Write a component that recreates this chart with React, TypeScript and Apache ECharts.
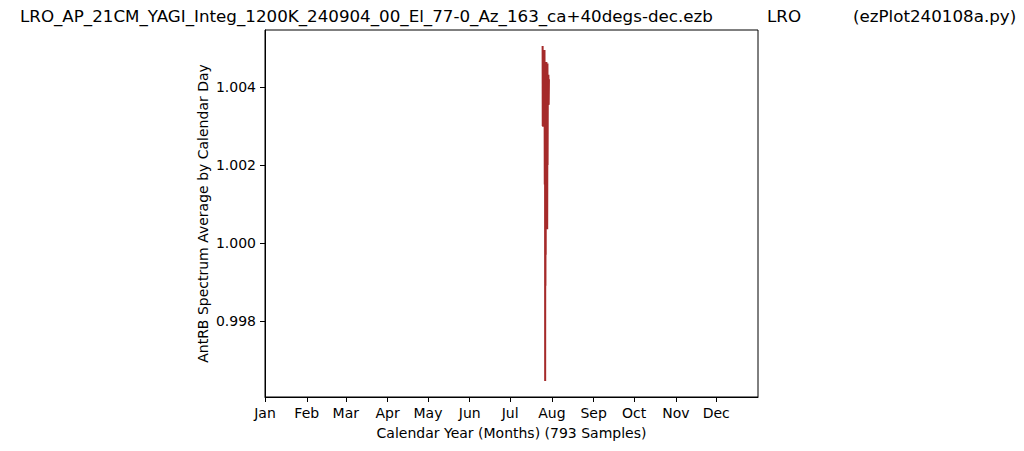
import React, { useEffect, useRef } from "react";
import * as echarts from "echarts";

const titleLeft = "LRO_AP_21CM_YAGI_Integ_1200K_240904_00_El_77-0_Az_163_ca+40degs-dec.ezb";
const titleMid = "LRO";
const titleRight = "(ezPlot240108a.py)";
const yAxisName = "AntRB Spectrum Average by Calendar Day";
const xAxisName = "Calendar Year (Months) (793 Samples)";

const monthNames = ["Jan", "Feb", "Mar", "Apr", "May", "Jun", "Jul", "Aug", "Sep", "Oct", "Nov", "Dec"];
const monthStartDays = [0, 31, 60, 91, 121, 152, 182, 213, 244, 274, 305, 335];
const yTicks = [0.998, 1.0, 1.002, 1.004];

const sampleDays = [
  206.1, 206.2, 206.4, 206.5, 206.7, 206.9, 207.1, 207.3, 207.5, 207.7,
  207.9, 208.0, 208.1, 208.2, 208.3, 208.4, 208.5, 208.7, 208.9, 209.1,
  209.3, 209.5, 209.7, 209.8, 210.0, 210.2, 210.4, 210.6, 210.8,
];
const sampleValues = [
  1.00505, 1.003, 1.0049, 1.00298, 1.0048, 1.0031, 1.0047, 1.0032, 1.00495, 1.0015,
  1.0046, 0.99646, 1.0042, 0.9989, 1.0038, 0.9997, 1.0045, 1.001, 1.00464, 1.0004,
  1.0044, 1.00035, 1.0046, 1.002, 1.0043, 1.0036, 1.00431, 1.00354, 1.0042,
];

export default function App() {
  const ref = useRef<HTMLDivElement>(null);
  useEffect(() => {
    if (!ref.current) return;
    const chart = echarts.init(ref.current, undefined, { renderer: "svg" });
    const font = "DejaVu Sans";
    chart.setOption({
      animation: false,
      backgroundColor: "#ffffff",
      textStyle: { fontFamily: font },
      grid: {
        left: 265,
        top: 30,
        right: 266,
        bottom: 54,
        show: true,
        borderColor: "#000",
        borderWidth: 1,
        backgroundColor: "transparent",
      },
      graphic: [
        { type: "text", left: 20, top: 7, style: { text: titleLeft, font: `16.7px ${font}`, fill: "#000" } },
        { type: "text", left: 767, top: 7, style: { text: titleMid, font: `16.7px ${font}`, fill: "#000" } },
        { type: "text", left: 853, top: 7, style: { text: titleRight, font: `16.7px ${font}`, fill: "#000" } },
      ],
      xAxis: {
        type: "value",
        min: 0,
        max: 366,
        name: xAxisName,
        nameLocation: "middle",
        nameGap: 29,
        nameTextStyle: { fontSize: 14, color: "#000", fontFamily: font },
        axisLine: { show: true, lineStyle: { color: "#000", width: 1 } },
        axisTick: { show: true, length: 5, lineStyle: { color: "#000" }, customValues: monthStartDays },
        axisLabel: {
          color: "#000",
          fontSize: 14,
          fontFamily: font,
          margin: 9,
          customValues: monthStartDays,
          formatter: (v: number) => {
            const i = monthStartDays.indexOf(Math.round(v));
            return i >= 0 ? monthNames[i] : "";
          },
        },
        splitLine: { show: false },
      },
      yAxis: {
        type: "value",
        min: 0.99605,
        max: 1.00546,
        name: yAxisName,
        nameLocation: "middle",
        nameGap: 55,
        nameTextStyle: { fontSize: 14, color: "#000", fontFamily: font },
        axisLine: { show: true, lineStyle: { color: "#000", width: 1 } },
        axisTick: { show: true, length: 5, lineStyle: { color: "#000" }, customValues: yTicks },
        axisLabel: {
          color: "#000",
          fontSize: 14,
          fontFamily: font,
          margin: 9,
          customValues: yTicks,
          formatter: (v: number) => v.toFixed(3),
        },
        splitLine: { show: false },
      },
      series: [
        {
          type: "line",
          data: sampleDays.map((d, i) => [d, sampleValues[i]]),
          showSymbol: false,
          symbol: "none",
          lineStyle: { color: "#a52a2a", width: 2 },
          itemStyle: { color: "#a52a2a" },
        },
      ],
    });
    return () => chart.dispose();
  }, []);
  return (
    <div
      ref={ref}
      style={{ position: "fixed", left: 0, top: 0, width: 1024, height: 451 }}
    />
  );
}
